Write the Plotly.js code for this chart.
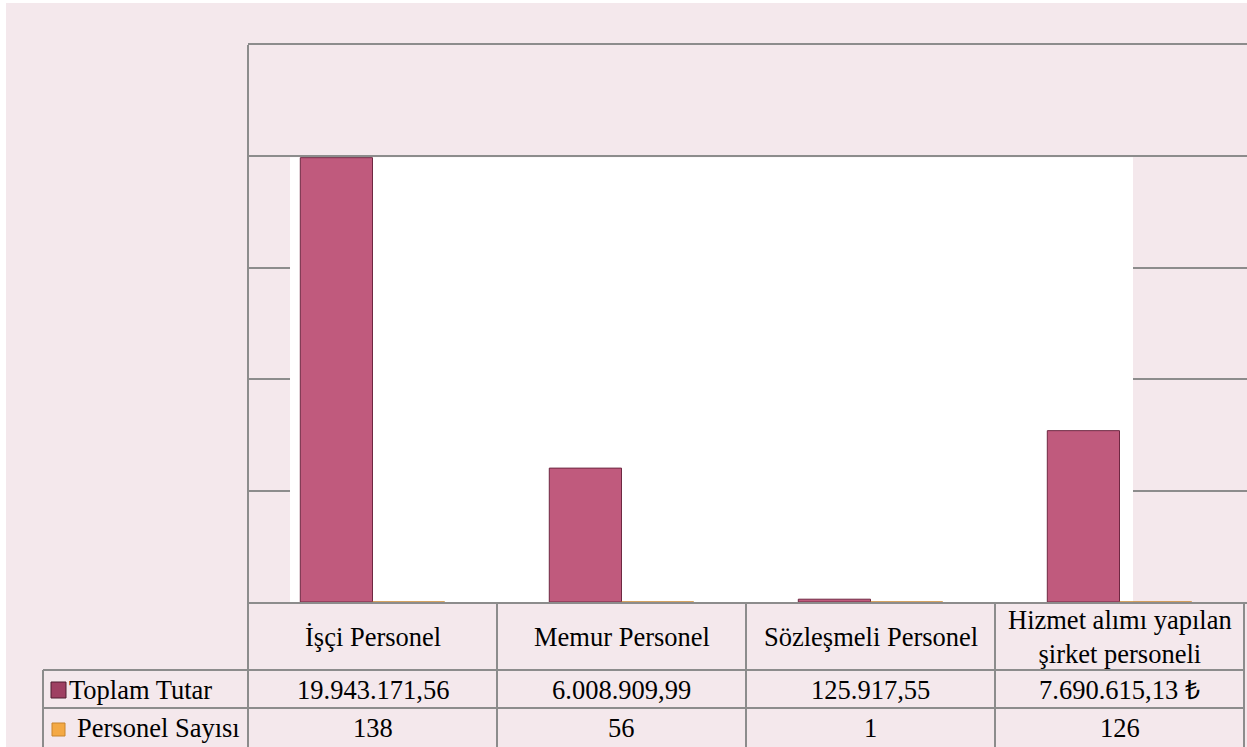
<!DOCTYPE html>
<html>
<head>
<meta charset="utf-8">
<script src="https://cdn.plot.ly/plotly-3.0.1.min.js"></script>
<style>
  html, body { margin: 0; padding: 0; background: #ffffff; }
  #chart { width: 1247px; height: 747px; }
  #chart text { font-family: 'Liberation Serif', serif !important; }
</style>
</head>
<body>
<div id="chart"></div>
<script>
// ---- Data ----
var categories = ["İşçi Personel", "Memur Personel", "Sözleşmeli Personel", "Hizmet alımı yapılan<br>şirket personeli"];
var seriesNames = ["Toplam Tutar", "Personel Sayısı"];
var toplamTutar = [19943171.56, 6008909.99, 125917.55, 7690615.13];
var personelSayisi = [138, 56, 1, 126];
var currencySuffix = ["", "", "", " ₺"];

// ---- Helpers ----
function formatTR(v) {
  var parts = v.toFixed(2).split(".");
  var intPart = parts[0].replace(/\B(?=(\d{3})+(?!\d))/g, ".");
  return intPart + "," + parts[1];
}
var W = 1247, H = 747;
var L = 248, R = 1247, T = 45, B = 602;
var XR = [-0.5, 3.512];
function px(x) { return (x - L) / (R - L); }
function py(y) { return (B - y) / (B - T); }
function dx(x) { return XR[0] + (x - L) / (R - L) * (XR[1] - XR[0]); }

var FONT = "Liberation Serif";
var GRID = "#8c8c8c";
var PINK = "#c05a7d";
var ORANGE = "#f4a944";

var traces = [
  {
    type: "bar",
    name: seriesNames[0],
    x: [0, 1, 2, 3],
    y: toplamTutar,
    marker: { color: PINK, line: { color: "#6e2842", width: 1 } },
    hoverinfo: "skip"
  },
  {
    type: "bar",
    name: seriesNames[1],
    x: [0, 1, 2, 3],
    y: personelSayisi,
    marker: { color: ORANGE, line: { color: "#c8842c", width: 1 } },
    hoverinfo: "skip"
  }
];

var shapes = [];
// pink background (leaves thin white border at left/top)
shapes.push({ type: "rect", xref: "paper", yref: "paper", layer: "below",
  x0: px(6), x1: px(1247), y0: py(747), y1: py(3),
  fillcolor: "#f4e8ec", line: { width: 0 } });
// white back wall (above gridlines, below bars)
shapes.push({ type: "rect", xref: "x", yref: "y", layer: "between",
  x0: dx(290), x1: dx(1133), y0: 0, y1: 19960000,
  fillcolor: "#ffffff", line: { width: 0 } });
function vline(x, y0, y1) {
  shapes.push({ type: "line", xref: "paper", yref: "paper", layer: "above",
    x0: px(x), x1: px(x), y0: py(y0), y1: py(y1), line: { color: GRID, width: 2 } });
}
function hline(y, x0, x1) {
  shapes.push({ type: "line", xref: "paper", yref: "paper", layer: "above",
    x0: px(x0), x1: px(x1), y0: py(y), y1: py(y), line: { color: GRID, width: 2 } });
}
vline(248, 45, 747);
[497, 746, 995, 1244].forEach(function (x) { vline(x, 602, 747); });
vline(43, 670, 747);
hline(670, 43, 1244);
hline(708, 43, 1244);
// legend keys
shapes.push({ type: "rect", xref: "paper", yref: "paper", layer: "above",
  x0: px(51), x1: px(66), y0: py(698), y1: py(682),
  fillcolor: "#9e3f62", line: { color: "#4e1c30", width: 1 } });
shapes.push({ type: "rect", xref: "paper", yref: "paper", layer: "above",
  x0: px(52), x1: px(65), y0: py(736), y1: py(723),
  fillcolor: ORANGE, line: { color: "#c8842c", width: 1 } });

var annotations = [];
var fs = 26.5;
categories.forEach(function (c, i) {
  annotations.push({ xref: "x", yref: "paper", x: i, y: py(637), text: c,
    showarrow: false, xanchor: "center", yanchor: "middle",
    font: { family: FONT, size: fs, color: "#000" } });
  annotations.push({ xref: "x", yref: "paper", x: i, y: py(690),
    text: formatTR(toplamTutar[i]) + currencySuffix[i],
    showarrow: false, xanchor: "center", yanchor: "middle",
    font: { family: FONT, size: fs, color: "#000" } });
  annotations.push({ xref: "x", yref: "paper", x: i, y: py(728),
    text: String(personelSayisi[i]),
    showarrow: false, xanchor: "center", yanchor: "middle",
    font: { family: FONT, size: fs, color: "#000" } });
});
annotations.push({ xref: "paper", yref: "paper", x: px(67), y: py(690), text: seriesNames[0],
  showarrow: false, xanchor: "left", yanchor: "middle",
  font: { family: FONT, size: fs, color: "#000" } });
annotations.push({ xref: "paper", yref: "paper", x: px(75), y: py(728), text: seriesNames[1],
  showarrow: false, xanchor: "left", yanchor: "middle",
  font: { family: FONT, size: fs, color: "#000" } });

var layout = {
  width: W, height: H,
  margin: { l: L, r: W - R, t: T, b: H - B, pad: 0 },
  paper_bgcolor: "#ffffff",
  plot_bgcolor: "rgba(0,0,0,0)",
  showlegend: false,
  barmode: "group",
  bargap: 0.42,
  bargroupgap: 0,
  hovermode: false,
  xaxis: {
    type: "linear",
    range: XR,
    showticklabels: false, ticks: "",
    showgrid: false, zeroline: false,
    showline: true, mirror: true, linecolor: GRID, linewidth: 2
  },
  yaxis: {
    range: [0, 25000000],
    dtick: 5000000,
    showticklabels: false, ticks: "",
    showgrid: true, gridcolor: GRID, gridwidth: 2,
    zeroline: false, showline: false
  },
  shapes: shapes,
  annotations: annotations
};

Plotly.newPlot("chart", traces, layout, { displayModeBar: false, staticPlot: true });
</script>
</body>
</html>
